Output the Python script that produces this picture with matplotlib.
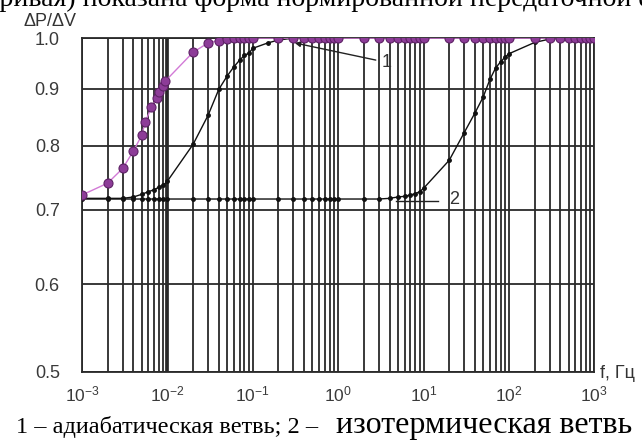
import numpy as np
import matplotlib
matplotlib.use("Agg")
import matplotlib.pyplot as plt

plt.rcParams['font.family'] = ['Liberation Sans', 'DejaVu Sans']
plt.rcParams['mathtext.fontset'] = 'custom'
plt.rcParams['mathtext.rm'] = 'Liberation Sans'
plt.rcParams['mathtext.it'] = 'Liberation Sans'


## Données

# courbe violette (adiabatique, mesurée)
f_violet = [0.001, 0.002, 0.003, 0.004, 0.005, 0.0055, 0.0065, 0.0075, 0.008, 0.0088, 0.0095,
            0.02, 0.03, 0.04, 0.05, 0.06, 0.07, 0.08, 0.09, 0.1,
            0.2, 0.3, 0.4, 0.5, 0.6, 0.7, 0.8, 0.9, 1.0,
            2, 3, 4, 5, 6, 7, 8, 9, 10,
            20, 30, 40, 50, 60, 70, 80, 90, 100,
            200, 300, 400, 500, 600, 700, 800, 900, 1000]
y_violet = [0.722, 0.740, 0.763, 0.791, 0.817, 0.840, 0.866, 0.883, 0.894, 0.905, 0.915,
            0.971, 0.990, 0.995, 0.998, 1.0, 1.0, 1.0, 1.0, 1.0,
            1.0, 1.0, 1.0, 1.0, 1.0, 1.0, 1.0, 1.0, 1.0,
            1.0, 1.0, 1.0, 1.0, 1.0, 1.0, 1.0, 1.0, 1.0,
            1.0, 1.0, 1.0, 1.0, 1.0, 1.0, 1.0, 1.0, 1.0,
            1.0, 1.0, 1.0, 1.0, 1.0, 1.0, 1.0, 1.0, 1.0]

# courbe 1 (noire, adiabatique)
f_1 = [0.001, 0.002, 0.003, 0.004, 0.005, 0.006, 0.007, 0.008, 0.009, 0.01,
       0.02, 0.03, 0.04, 0.05, 0.06, 0.07, 0.08, 0.09, 0.1, 0.15, 0.2, 0.3]
y_1 = [0.717, 0.717, 0.717, 0.719, 0.723, 0.727, 0.730, 0.734, 0.737, 0.743,
       0.802, 0.852, 0.899, 0.924, 0.942, 0.955, 0.965, 0.969, 0.979, 0.990, 0.996, 1.0]

# courbe 2 (noire, isotherme)
f_2 = [0.001, 0.002, 0.003, 0.004, 0.005, 0.006, 0.007, 0.008, 0.009, 0.01,
       0.02, 0.03, 0.04, 0.05, 0.06, 0.07, 0.08, 0.09, 0.1,
       0.2, 0.3, 0.4, 0.5, 0.6, 0.7, 0.8, 0.9, 1.0,
       2, 3, 4, 5, 6, 7, 8, 9, 10,
       20, 30, 40, 50, 60, 70, 80, 90, 100,
       200, 300, 400, 500, 600, 700, 800, 900, 1000]
y_2 = [0.716, 0.716, 0.716, 0.716, 0.716, 0.716, 0.716, 0.716, 0.716, 0.716,
       0.716, 0.716, 0.716, 0.716, 0.716, 0.716, 0.716, 0.716, 0.716,
       0.716, 0.716, 0.716, 0.716, 0.716, 0.716, 0.716, 0.716, 0.716,
       0.716, 0.716, 0.717, 0.719, 0.720, 0.722, 0.724, 0.727, 0.732,
       0.776, 0.822, 0.856, 0.885, 0.918, 0.940, 0.952, 0.961, 0.968,
       0.991, 0.998, 1.0, 1.0, 1.0, 1.0, 1.0, 1.0, 1.0]

y_ticks = [0.5, 0.6, 0.7, 0.8, 0.9, 1.0]
y_labels = ['0.5', '0.6', '0.7', '0.8', '0.9', '1.0']


## Figure

fig = plt.figure(figsize=(6.42, 4.44), dpi=100)
ax = fig.add_axes([0.1277, 0.1622, 0.798, 0.752])

ax.set_xscale('log')
ax.set_yscale('log')
ax.set_xlim(1e-3, 1e3)
ax.set_ylim(0.5, 1.0)

# grille
ax.xaxis.set_major_locator(matplotlib.ticker.LogLocator(base=10, numticks=10))
ax.xaxis.set_minor_locator(matplotlib.ticker.LogLocator(base=10, subs=np.arange(2, 10), numticks=20))
ax.grid(True, which='both', axis='x', color='#2a2a2a', lw=1.3)
ax.set_yticks(y_ticks)
ax.set_yticklabels(y_labels)
ax.yaxis.set_minor_locator(matplotlib.ticker.NullLocator())
ax.grid(True, which='major', axis='y', color='#2a2a2a', lw=1.3)
ax.axvline(1e-2, color='#1a1a1a', lw=2.6, zorder=1)
for s in ax.spines.values():
    s.set_color('#2a2a2a')
    s.set_linewidth(1.3)

ax.tick_params(which='both', length=0)
ax.tick_params(axis='y', pad=16, labelsize=13, colors='#3a3a3a')
ax.tick_params(axis='x', pad=9, labelsize=12.5, colors='#3a3a3a')

# courbes
ax.plot(f_2, y_2, color='#111111', lw=1.0, marker='o', ms=2.5, zorder=3)
ax.plot(f_1, y_1, color='#111111', lw=1.0, marker='o', ms=2.5, zorder=3)
ax.plot(f_violet, y_violet, color='#d27ad6', lw=1.0, marker='o', ms=6.5,
        mfc='#8d3c98', mec='#5e2266', mew=0.8, zorder=4)

# repères
ax.annotate('1', xy=(0.31, 0.990), xytext=(3.2, 0.951), fontsize=13, color='#333333',
            va='center', ha='left',
            arrowprops=dict(arrowstyle='-|>', color='#222222', lw=1.0, shrinkA=2, shrinkB=0,
                            mutation_scale=8))
ax.plot([4.8, 14.6], [0.713, 0.713], color='#222222', lw=1.0, zorder=3)
ax.text(20, 0.716, '2', fontsize=13, color='#333333', va='center', ha='left')

# textes
fig.text(0.078, 1 - 21 / 444, 'ΔP/ΔV', fontsize=13, color='#333333', ha='center', va='center')
fig.text(0.934, 1 - 373 / 444, 'f, Гц', fontsize=13, color='#333333', ha='left', va='center')
fig.text(0.5, 1 - 6 / 444, 'кривая) показана форма нормированной передаточной ф',
         family='Liberation Serif', fontsize=20, ha='center', va='baseline')
fig.text(0.025, 1 - 433 / 444, '1 – адиабатическая ветвь; 2 – ', family='Liberation Serif',
         fontsize=17.5, ha='left', va='baseline')
fig.text(0.523, 1 - 433 / 444, 'изотермическая ветвь', family='Liberation Serif',
         fontsize=23, ha='left', va='baseline')

fig.savefig('out.png', dpi=100)
